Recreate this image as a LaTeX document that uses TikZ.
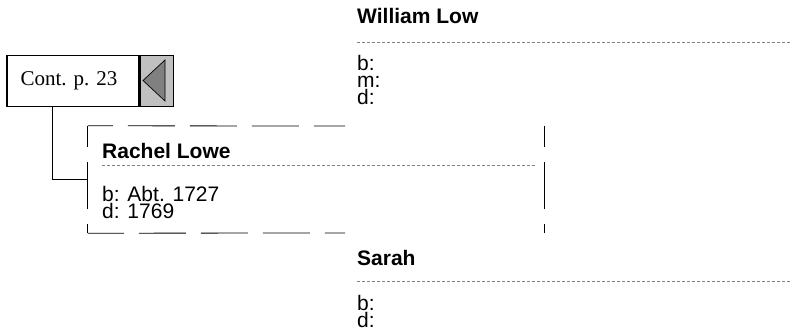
\documentclass[tikz,border=0pt]{standalone}
\usepackage{fontspec}
\setmainfont{Liberation Sans}
\newfontfamily\contfont{Liberation Serif}
\definecolor{boxgray}{HTML}{C0C0C0}
\definecolor{tipgray}{HTML}{808080}
\definecolor{linegray}{HTML}{808080}
\tikzset{
  persname/.style={anchor=base west, inner sep=0pt, font=\fontsize{21}{17}\selectfont\bfseries},
  facts/.style={anchor=north west, inner sep=0pt, align=left, font=\fontsize{21}{17}\selectfont},
  sepline/.style={draw=linegray, line width=0.6pt, dash pattern=on 3pt off 2pt},
  boxdash/.style={line width=0.8pt, dash pattern=on 47pt off 15pt},
}
\begin{document}
\begin{tikzpicture}[x=1pt,y=-1pt]
  \useasboundingbox (0,0) rectangle (792,334);
  % father
  \node[persname] (william) at (357,24) {William Low};
  \draw[sepline] (357,42) -- (792,42);
  \node[facts] (wfacts) at (357,55) {b:\\m:\\d:};
  % continuation box
  \node[draw, line width=1.3pt, minimum width=132pt, minimum height=51pt, font=\contfont\fontsize{21}{23}\selectfont] (cont) at (73,81) {Cont. p. 23\hspace*{8pt}};
  \node[draw, line width=1.3pt, fill=boxgray, anchor=west, minimum width=33pt, minimum height=51pt] (contarrow) at (cont.east) {};
  \draw[fill=tipgray, line width=0.7pt] (143,80.5) -- (165,60) -- (165,101) -- cycle;
  % child
  \node[minimum width=456pt, minimum height=107pt, inner sep=0pt] (rachel) at (316,179.5) {};
  \draw[boxdash, dash phase=22pt] (rachel.north west) -- (345,126);
  \draw[boxdash, dash phase=26pt] (rachel.north west) -- (rachel.south west);
  \draw[boxdash, dash phase=11pt] (rachel.south west) -- (345,233);
  \draw[boxdash, dash phase=26pt] (rachel.north east) -- (rachel.south east);
  \node[persname] (rname) at (102,158) {Rachel Lowe};
  \draw[sepline] (102,165) -- (535,165);
  \node[facts] (rfacts) at (102,186) {b: Abt. 1727\\d: 1769};
  \draw[line width=1pt] ([xshift=46pt]cont.south west) |- (rachel.west);
  % mother
  \node[persname] (sarah) at (357,265) {Sarah};
  \draw[sepline] (357,281) -- (792,281);
  \node[facts] (sfacts) at (357,295) {b:\\d:};
\end{tikzpicture}
\end{document}
